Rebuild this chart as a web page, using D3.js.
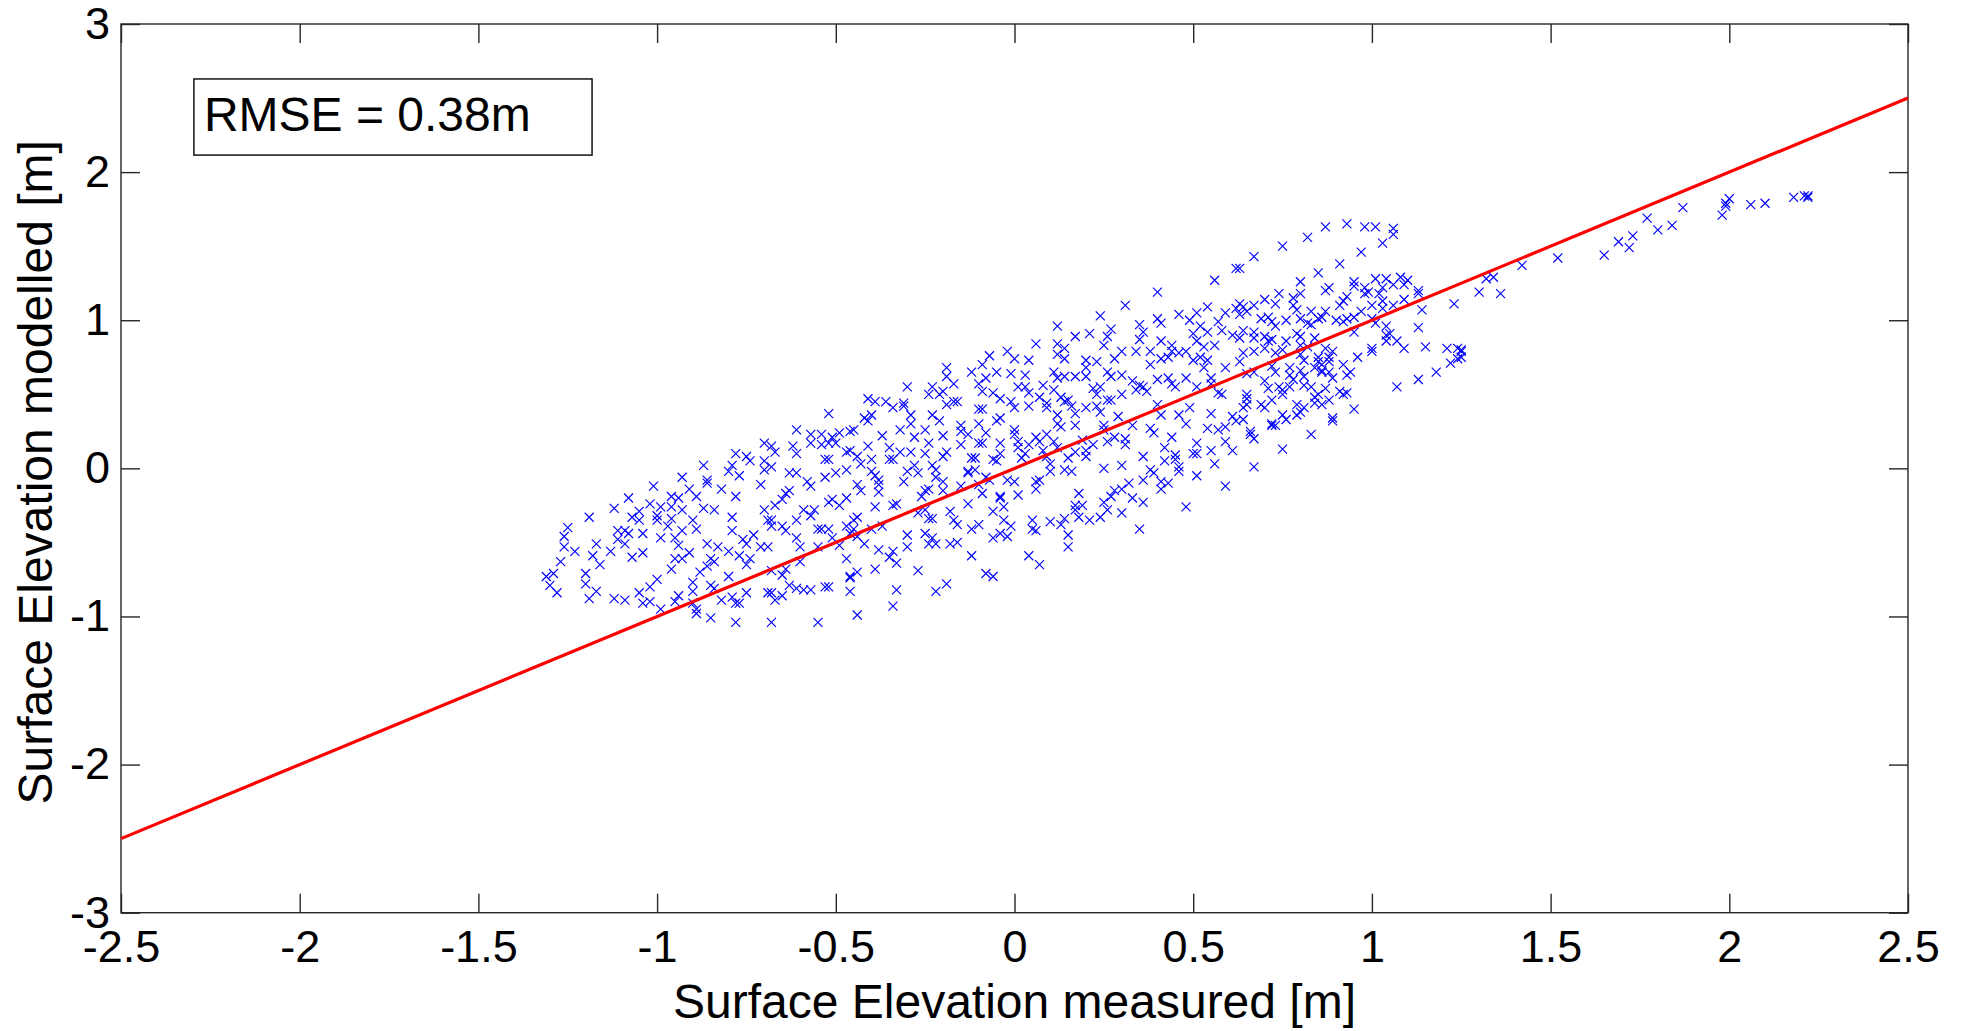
<!DOCTYPE html>
<html>
<head>
<meta charset="utf-8">
<script src="https://cdn.jsdelivr.net/npm/d3@7"></script>
<style>
  body { margin: 0; background: #fff; }
  svg { display: block; font-family: "Liberation Sans", Arial, Helvetica, sans-serif; }
  .axis line { stroke: #262626; stroke-width: 1.4; }
  .axis text { font-size: 45px; fill: #000; }
  .frame { fill: none; stroke: #262626; stroke-width: 1.4; }
  .obs { fill: none; stroke: #0000ff; stroke-width: 1.15; }
  .oneToOne { fill: none; stroke: #ff0000; stroke-width: 3.2; }
  .label { font-size: 48px; fill: #000; }
  .rmseBox { fill: #fff; stroke: #000; stroke-width: 1.4; }
  .rmse { font-size: 48px; fill: #000; }
</style>
</head>
<body>
<svg width="1968" height="1031"></svg>
<script>
// axis ticks
const xTicks = [-2.5, -2, -1.5, -1, -0.5, 0, 0.5, 1, 1.5, 2, 2.5];
const yTicks = [-3, -2, -1, 0, 1, 2, 3];

// 1:1 reference line
const lineMeasured = [-2.5, 2.5];
const lineModelled = [-2.5, 2.5];

const rmseText = "RMSE = 0.38m";

// [measured, modelled] pairs
const obs = [
  [-0.70,0.17],[-0.78,0.10],[-0.75,0.08],[-0.74,0.05],[-0.70,0.05],[-0.87,0.02],[-0.79,0.02],[-0.80,-0.02],[-0.77,-0.05],[-0.70,-0.01],
  [-0.93,-0.06],[-0.91,-0.14],[-0.86,-0.08],[-0.86,-0.10],[-0.82,-0.14],[-0.71,-0.11],[-1.01,-0.12],[-0.89,-0.19],[-0.96,-0.19],[-0.94,-0.20],
  [-0.78,-0.19],[-1.08,-0.20],[-1.12,-0.27],[-1.02,-0.24],[-1.05,-0.29],[-0.99,-0.26],[-0.96,-0.26],[-0.93,-0.28],[-0.87,-0.27],[-0.84,-0.28],
  [-1.19,-0.33],[-1.07,-0.33],[-1.05,-0.35],[-1.00,-0.35],[-1.00,-0.32],[-0.96,-0.34],[-0.97,-0.39],[-0.90,-0.35],[-0.79,-0.33],[-1.25,-0.40],
  [-1.11,-0.42],[-1.09,-0.42],[-1.08,-0.44],[-1.04,-0.44],[-0.93,-0.42],[-0.89,-0.41],[-0.79,-0.42],[-0.69,-0.35],[-0.70,-0.28],[-1.26,-0.46],
  [-1.26,-0.53],[-1.17,-0.51],[-1.11,-0.48],[-1.09,-0.51],[-0.99,-0.47],[-0.95,-0.47],[-0.94,-0.52],[-0.86,-0.51],[-0.83,-0.53],[-1.23,-0.56],
  [-1.13,-0.56],[-1.18,-0.59],[-1.16,-0.65],[-1.07,-0.60],[-1.04,-0.57],[-0.95,-0.61],[-0.93,-0.61],[-0.91,-0.57],[-0.85,-0.61],[-0.84,-0.63],
  [-0.80,-0.56],[-0.77,-0.59],[-0.76,-0.48],[-0.75,-0.51],[-0.73,-0.45],[-0.74,-0.61],[-0.75,-0.65],[-0.71,-0.53],[-0.69,-0.53],[-1.27,-0.63],
  [-1.31,-0.73],[-1.29,-0.71],[-1.30,-0.79],[-1.28,-0.84],[-1.20,-0.71],[-1.20,-0.78],[-1.19,-0.88],[-1.17,-0.83],[-1.12,-0.88],[-1.09,-0.89],
  [-1.05,-0.84],[-1.02,-0.80],[-1.04,-0.91],[-1.02,-0.90],[-1.00,-0.75],[-0.99,-0.95],[-0.96,-0.68],[-0.95,-0.90],[-0.94,-0.86],[-0.90,-0.77],
  [-0.90,-0.83],[-0.90,-0.91],[-0.89,-0.95],[-0.89,-0.98],[-0.88,-0.70],[-0.86,-0.66],[-0.85,-0.79],[-0.84,-0.81],[-0.85,-1.01],[-0.82,-0.89],
  [-0.80,-0.73],[-0.79,-0.87],[-0.78,-0.91],[-0.77,-0.91],[-0.78,-1.04],[-0.75,-0.84],[-0.69,-0.84],
  [-0.52,0.37],[-0.42,0.34],[-0.40,0.36],[-0.41,0.47],[-0.39,0.45],[-0.36,0.45],[-0.34,0.41],[-0.31,0.42],[-0.31,0.44],[-0.30,0.55],
  [-0.29,0.36],[-0.24,0.50],[-0.23,0.55],[-0.20,0.52],[-0.21,0.50],[-0.19,0.43],[-0.19,0.68],[-0.19,0.62],[-0.17,0.57],[-0.17,0.45],
  [-0.16,0.45],[-0.23,0.36],[-0.12,0.65],[-0.10,0.57],[-0.08,0.61],[-0.09,0.70],[-0.07,0.76],[-0.05,0.65],[-0.09,0.52],[-0.06,0.51],
  [-0.10,0.40],[-0.09,0.40],[-0.04,0.47],[-0.04,0.34],
  [-0.61,0.26],[-0.57,0.23],[-0.57,0.17],[-0.54,0.23],[-0.51,0.21],[-0.49,0.24],[-0.52,0.17],[-0.50,0.17],[-0.54,0.16],[-0.45,0.26],
  [-0.46,0.25],[-0.41,0.32],[-0.37,0.22],[-0.32,0.26],[-0.29,0.30],[-0.28,0.21],[-0.25,0.26],[-0.21,0.32],[-0.20,0.22],[-0.15,0.29],
  [-0.15,0.25],[-0.13,0.23],[-0.10,0.30],[-0.08,0.24],[-0.05,0.32],[-0.15,0.16],[-0.10,0.17],[-0.09,0.17],[-0.04,0.17],[-0.68,0.15],
  [-0.67,0.11],[-0.62,0.15],[-0.61,0.10],[-0.47,0.11],[-0.46,0.12],[-0.44,0.08],[-0.41,0.15],[-0.40,0.06],[-0.35,0.14],[-0.35,0.06],
  [-0.34,0.06],[-0.32,0.11],[-0.29,0.11],[-0.24,0.17],[-0.25,0.10],[-0.23,0.02],[-0.19,0.11],[-0.20,0.08],[-0.12,0.07],[-0.11,0.07],
  [-0.06,0.06],[-0.04,0.10],[-0.05,0.05],[-0.53,0.06],[-0.52,0.06],[-0.47,-0.01],[-0.43,0.03],[-0.40,-0.02],[-0.39,-0.05],[-0.38,-0.08],
  [-0.28,0.02],[-0.30,-0.02],[-0.27,-0.03],[-0.22,-0.01],[-0.22,-0.06],[-0.13,-0.03],[-0.13,-0.02],[-0.11,-0.01],[-0.08,-0.06],[-0.07,-0.08],
  [-0.68,0.01],[-0.63,-0.03],[-0.61,-0.03],[-0.58,-0.09],[-0.57,-0.12],[-0.63,-0.15],[-0.64,-0.17],[-0.53,-0.06],[-0.50,-0.03],[-0.44,-0.11],
  [-0.43,-0.15],[-0.38,-0.11],[-0.38,-0.16],[-0.31,-0.09],[-0.25,-0.15],[-0.24,-0.14],[-0.20,-0.09],[-0.20,-0.15],[-0.26,-0.19],[-0.15,-0.12],
  [-0.10,-0.11],[-0.09,-0.17],[-0.04,-0.19],[-0.67,-0.25],[-0.65,-0.21],[-0.52,-0.23],[-0.51,-0.21],[-0.47,-0.20],[-0.59,-0.28],[-0.56,-0.28],
  [-0.57,-0.32],[-0.49,-0.25],[-0.44,-0.33],[-0.45,-0.35],[-0.39,-0.26],[-0.34,-0.25],[-0.33,-0.24],[-0.27,-0.30],[-0.25,-0.28],[-0.23,-0.34],
  [-0.24,-0.34],[-0.18,-0.29],[-0.17,-0.35],[-0.16,-0.38],[-0.13,-0.24],[-0.12,-0.41],[-0.10,-0.38],[-0.06,-0.29],[-0.04,-0.20],[-0.68,-0.35],
  [-0.68,-0.39],[-0.65,-0.39],[-0.64,-0.42],[-0.61,-0.35],[-0.55,-0.41],[-0.54,-0.41],[-0.52,-0.41],[-0.51,-0.47],[-0.49,-0.52],[-0.47,-0.39],
  [-0.46,-0.44],[-0.44,-0.46],[-0.42,-0.51],[-0.45,-0.41],[-0.40,-0.41],[-0.37,-0.39],[-0.30,-0.45],[-0.30,-0.53],[-0.25,-0.44],[-0.24,-0.51],
  [-0.23,-0.47],[-0.22,-0.51],[-0.18,-0.51],[-0.16,-0.50],[-0.06,-0.47],[-0.04,-0.44],[-0.61,-0.47],[-0.60,-0.53],[-0.60,-0.63],[-0.55,-0.53],
  [-0.38,-0.55],[-0.34,-0.56],[-0.35,-0.60],[-0.33,-0.64],[-0.47,-0.61],[-0.39,-0.68],[-0.27,-0.69],[-0.12,-0.59],[-0.08,-0.71],[-0.06,-0.73],
  [-0.68,-0.69],[-0.65,-0.72],[-0.64,-0.68],[-0.46,-0.74],[-0.46,-0.73],[-0.44,-0.70],[-0.63,-0.79],[-0.61,-0.81],[-0.59,-0.82],[-0.57,-0.82],
  [-0.53,-0.80],[-0.52,-0.80],[-0.46,-0.83],[-0.33,-0.82],[-0.22,-0.83],[-0.19,-0.78],[-0.68,-0.84],[-0.67,-0.89],[-0.65,-0.86],[-0.34,-0.93],
  [-0.68,-1.04],[-0.55,-1.04],[-0.44,-0.99],
  [0.62,1.35],[0.56,1.27],[0.40,1.19],[0.31,1.10],[0.24,1.03],[0.12,0.96],[0.21,0.91],[0.17,0.89],[0.06,0.84],[-0.02,0.79],
  [0.00,0.74],[0.04,0.73],[0.12,0.84],[0.14,0.81],[0.12,0.77],[0.14,0.74],[0.26,0.89],[0.25,0.83],[0.27,0.94],[0.28,0.74],
  [0.30,0.79],[0.34,0.79],[0.35,0.97],[0.36,0.92],[0.35,0.87],[0.40,1.01],[0.41,0.98],[0.46,1.04],[0.49,1.00],[0.51,1.05],
  [0.54,1.09],[0.52,0.96],[0.54,0.92],[0.57,0.99],[0.59,1.05],[0.62,1.08],[0.58,0.93],[0.61,0.90],[0.50,0.91],[0.51,0.86],
  [0.53,0.82],[0.56,0.83],[0.38,0.79],[0.38,0.70],[0.41,0.86],[0.44,0.83],[0.44,0.79],[0.46,0.78],[0.48,0.79],[0.41,0.74],
  [0.43,0.75],[0.50,0.73],[0.52,0.75],[0.54,0.73],[0.59,0.68],[0.63,0.72],[-0.01,0.64],[0.01,0.55],[0.03,0.63],[0.03,0.55],
  [0.04,0.51],[0.08,0.56],[0.11,0.65],[0.12,0.61],[0.14,0.62],[0.13,0.48],[0.11,0.53],[0.20,0.73],[0.20,0.68],[0.23,0.72],
  [0.17,0.62],[0.20,0.62],[0.22,0.54],[0.23,0.50],[0.26,0.65],[0.27,0.62],[0.30,0.63],[0.24,0.55],[0.26,0.46],[0.33,0.59],
  [0.35,0.56],[0.37,0.52],[0.34,0.53],[0.36,0.55],[0.40,0.60],[0.43,0.61],[0.44,0.57],[0.45,0.55],[0.48,0.61],[0.53,0.68],
  [0.55,0.61],[0.55,0.57],[0.57,0.51],[0.58,0.50],[0.51,0.55],[-0.01,0.45],[0.00,0.41],[0.04,0.42],[0.07,0.48],[0.09,0.44],
  [0.09,0.41],[0.12,0.36],[0.14,0.45],[0.15,0.46],[0.16,0.42],[0.17,0.37],[0.20,0.41],[0.23,0.42],[0.24,0.38],[0.27,0.46],
  [0.30,0.50],[0.29,0.35],[0.40,0.43],[0.41,0.36],[0.46,0.36],[0.49,0.41],[0.55,0.37],[0.61,0.35],
  [0.00,0.26],[0.00,0.23],[0.01,0.18],[0.01,0.14],[0.03,0.10],[0.02,0.07],[0.04,0.16],[0.06,0.21],[0.07,0.18],[0.09,0.23],
  [0.12,0.30],[0.13,0.28],[0.17,0.29],[0.08,0.12],[0.09,0.08],[0.11,0.18],[0.12,0.14],[0.10,0.03],[0.10,-0.02],[0.14,-0.01],
  [0.16,-0.02],[0.15,0.07],[0.17,0.11],[0.20,0.12],[0.19,0.19],[0.20,0.08],[0.22,0.16],[0.25,0.29],[0.25,0.26],[0.26,0.18],
  [0.28,0.21],[0.31,0.20],[0.31,0.16],[0.33,0.29],[0.38,0.27],[0.39,0.24],[0.44,0.21],[0.48,0.30],[0.54,0.27],[0.57,0.26],
  [0.59,0.28],[0.62,0.32],[0.51,0.17],[0.50,0.10],[0.51,0.10],[0.55,0.12],[0.59,0.18],[0.61,0.12],[0.42,0.14],[0.45,0.09],
  [0.45,0.06],[0.42,0.05],[0.36,0.08],[0.25,0.00],[0.30,0.02],[0.38,-0.01],[0.39,-0.03],[0.36,-0.08],[0.41,-0.09],[0.43,-0.10],
  [0.41,-0.14],[0.46,0.01],[0.46,-0.02],[0.51,-0.05],[0.56,0.03],[0.59,-0.12],[0.00,-0.09],[-0.02,-0.08],[0.06,-0.09],[0.06,-0.14],
  [0.07,-0.08],[0.01,-0.18],[0.18,-0.17],[0.17,-0.25],[0.19,-0.25],[0.17,-0.28],[0.18,-0.33],[0.25,-0.23],[0.27,-0.19],[0.28,-0.15],
  [0.26,-0.28],[0.24,-0.33],[0.30,-0.14],[0.32,-0.10],[0.33,-0.20],[0.30,-0.30],[0.36,-0.23],[0.21,-0.35],[0.48,-0.26],[-0.03,-0.26],
  [-0.03,-0.35],[-0.01,-0.39],[-0.02,-0.46],[0.05,-0.35],[0.05,-0.41],[0.06,-0.42],[0.10,-0.36],[0.13,-0.38],[0.14,-0.34],[0.15,-0.45],
  [0.15,-0.53],[0.35,-0.41],[0.04,-0.59],[0.07,-0.65],
  [0.67,1.43],[0.75,1.50],[0.82,1.56],[0.87,1.63],[0.93,1.65],[0.98,1.63],[1.01,1.63],[1.06,1.62],[1.06,1.58],[1.03,1.52],
  [0.97,1.46],[0.91,1.38],[0.85,1.32],[0.63,1.35],[0.80,1.26],[0.87,1.20],[0.88,1.22],[0.74,1.18],[0.78,1.15],[0.80,1.18],
  [0.73,1.11],[0.70,1.14],[0.67,1.10],[0.64,1.09],[0.63,1.11],[0.78,1.10],[0.79,1.07],[0.80,1.01],[0.83,1.06],[0.86,1.02],
  [0.87,1.06],[0.91,1.10],[0.92,1.13],[0.93,1.16],[0.95,1.26],[0.95,1.23],[0.98,1.22],[0.98,1.18],[0.99,1.19],[1.01,1.28],
  [1.02,1.18],[1.03,1.22],[1.04,1.28],[1.06,1.24],[1.08,1.29],[1.09,1.24],[1.10,1.27],[1.13,1.20],[1.13,1.18],[1.00,1.10],
  [1.03,1.13],[1.03,1.08],[1.06,1.10],[1.09,1.14],[1.14,1.07],[1.23,1.11],[0.63,1.04],[0.65,1.06],[0.69,1.01],[0.71,1.02],
  [0.72,0.99],[0.73,0.96],[0.76,1.00],[0.82,0.98],[0.83,0.97],[0.85,1.01],[0.90,1.00],[0.92,0.99],[0.93,1.01],[0.95,1.02],
  [0.97,1.06],[0.95,0.92],[1.01,0.98],[1.00,1.01],[1.04,0.96],[1.05,0.91],[1.04,0.86],[1.04,0.90],[1.07,0.86],[1.09,0.81],
  [1.13,0.95],[1.15,0.82],[1.21,0.81],[1.24,0.81],[1.25,0.79],[1.24,0.74],[1.22,0.71],[1.18,0.65],[1.13,0.60],[1.07,0.55],
  [0.95,0.40],[0.64,0.93],[0.63,0.88],[0.67,0.92],[0.67,0.88],[0.70,0.89],[0.71,0.86],[0.72,0.87],[0.79,0.91],[0.80,0.89],
  [0.76,0.86],[0.84,0.88],[0.67,0.79],[0.70,0.81],[0.64,0.78],[0.73,0.78],[0.75,0.80],[0.80,0.83],[0.82,0.82],[0.87,0.81],
  [0.89,0.79],[0.85,0.75],[0.80,0.77],[0.81,0.73],[0.85,0.72],[0.86,0.70],[0.86,0.66],[0.88,0.75],[0.88,0.72],[0.92,0.70],
  [0.94,0.65],[0.96,0.75],[1.00,0.79],[1.00,0.81],[0.93,0.63],[0.65,0.64],[0.67,0.65],[0.72,0.69],[0.73,0.65],[0.77,0.68],
  [0.77,0.63],[0.78,0.60],[0.80,0.66],[0.81,0.62],[0.81,0.56],[0.84,0.68],[0.86,0.65],[0.88,0.65],[0.89,0.61],[0.70,0.59],
  [0.71,0.54],[0.74,0.55],[0.75,0.53],[0.77,0.55],[0.83,0.55],[0.84,0.48],[0.85,0.50],[0.87,0.54],[0.88,0.46],[0.91,0.52],
  [0.92,0.50],[0.93,0.51],[0.65,0.50],[0.65,0.47],[0.69,0.43],[0.70,0.41],[0.72,0.46],[0.75,0.50],[0.64,0.41],[0.65,0.43],
  [0.79,0.43],[0.80,0.38],[0.81,0.41],[0.84,0.44],[0.86,0.43],[0.75,0.36],[0.79,0.36],[0.89,0.34],
  [0.64,0.33],[0.66,0.25],[0.66,0.23],[0.67,0.20],[0.72,0.29],[0.72,0.30],[0.73,0.29],[0.76,0.33],[0.89,0.32],[0.83,0.23],
  [0.75,0.13],[0.67,0.01],
  [1.25,0.80],[1.25,0.75],[1.30,1.19],[1.32,1.28],[1.34,1.29],[1.36,1.18],[1.42,1.37],[1.52,1.42],[1.65,1.44],[1.69,1.53],
  [1.73,1.57],[1.72,1.49],[1.77,1.69],[1.80,1.61],[1.84,1.64],[1.87,1.76],[1.98,1.71],[1.99,1.77],[1.99,1.79],[2.00,1.82],
  [2.06,1.78],[2.10,1.79],[2.18,1.83],[2.21,1.84],[2.22,1.83],[2.22,1.84]
];

const svg = d3.select("svg");

const xScale = d3.scaleLinear().domain([-2.5, 2.5]).range([121, 1908]);
const yScale = d3.scaleLinear().domain([-3, 3]).range([912.7, 24]);

// frame box
svg
  .append("rect")
  .attr("class", "frame")
  .attr("x", xScale(-2.5))
  .attr("y", yScale(3))
  .attr("width", xScale(2.5) - xScale(-2.5))
  .attr("height", yScale(-3) - yScale(3));

// axes, matlab style: ticks pointing in, on all four sides
const fmt = (d) => String(d);

const xAxis = svg
  .append("g")
  .attr("class", "axis")
  .attr("transform", `translate(0,${yScale(-3)})`)
  .call(d3.axisBottom(xScale).tickValues(xTicks).tickFormat(fmt).tickSizeInner(-19).tickSizeOuter(0).tickPadding(17));

svg
  .append("g")
  .attr("class", "axis")
  .attr("transform", `translate(0,${yScale(3)})`)
  .call(d3.axisTop(xScale).tickValues(xTicks).tickFormat("").tickSizeInner(-19).tickSizeOuter(0));

const yAxis = svg
  .append("g")
  .attr("class", "axis")
  .attr("transform", `translate(${xScale(-2.5)},0)`)
  .call(d3.axisLeft(yScale).tickValues(yTicks).tickFormat(fmt).tickSizeInner(-19).tickSizeOuter(0).tickPadding(11));

svg
  .append("g")
  .attr("class", "axis")
  .attr("transform", `translate(${xScale(2.5)},0)`)
  .call(d3.axisRight(yScale).tickValues(yTicks).tickFormat("").tickSizeInner(-19).tickSizeOuter(0));

// box already drawn, drop domain paths
svg.selectAll(".axis .domain").remove();
svg.selectAll(".axis text").attr("font-family", null).attr("font-size", null);

// x markers
const r = 4.5;
svg
  .append("g")
  .selectAll("path.obs")
  .data(obs)
  .enter()
  .append("path")
  .attr("class", "obs")
  .attr("transform", (d) => `translate(${xScale(d[0])},${yScale(d[1])})`)
  .attr("d", `M${-r},${-r}L${r},${r}M${-r},${r}L${r},${-r}`);

// 1:1 line
const line = d3
  .line()
  .x((d) => xScale(d[0]))
  .y((d) => yScale(d[1]));

svg
  .append("path")
  .datum(d3.zip(lineMeasured, lineModelled))
  .attr("class", "oneToOne")
  .attr("d", line);

// rmse annotation
svg
  .append("rect")
  .attr("class", "rmseBox")
  .attr("x", xScale(-2.296))
  .attr("y", yScale(2.629))
  .attr("width", xScale(-1.182) - xScale(-2.296))
  .attr("height", yScale(2.115) - yScale(2.629));

svg
  .append("text")
  .attr("class", "rmse")
  .attr("x", xScale(-2.296) + 10)
  .attr("y", yScale(2.629) + 52)
  .text(rmseText);

// axis labels
svg
  .append("text")
  .attr("class", "label")
  .attr("text-anchor", "middle")
  .attr("x", (xScale(-2.5) + xScale(2.5)) / 2)
  .attr("y", 1018)
  .text("Surface Elevation measured [m]");

svg
  .append("text")
  .attr("class", "label")
  .attr("text-anchor", "middle")
  .attr("transform", `translate(52,${(yScale(-3) + yScale(3)) / 2 + 4}) rotate(-90)`)
  .text("Surface Elevation modelled [m]");
</script>
</body>
</html>
